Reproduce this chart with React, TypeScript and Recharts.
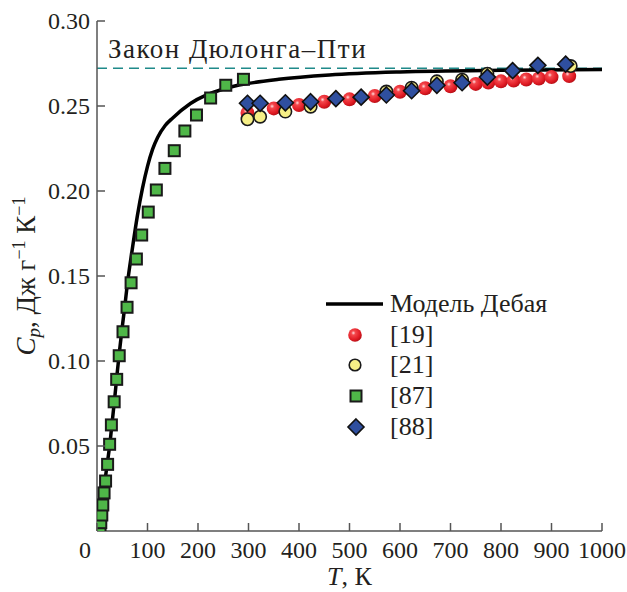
import React from 'react';
import { ComposedChart, Line, Scatter, XAxis, YAxis, ReferenceLine, Legend, Label } from 'recharts';

// Debye model curve
const debyeT = [0, 4, 8, 12, 16, 20, 25, 30, 35, 40, 45, 50, 55, 60, 70, 80, 90, 100, 110, 120, 135, 150, 185, 250, 300, 360, 460, 600, 800, 1000];
const debyeCp = [0, 0.004, 0.011, 0.02, 0.03, 0.039, 0.05, 0.064, 0.078, 0.093, 0.107, 0.12, 0.132, 0.145, 0.166, 0.1855, 0.2015, 0.2145, 0.2245, 0.2315, 0.2385, 0.243, 0.2515, 0.26, 0.2633, 0.2657, 0.2682, 0.27, 0.271, 0.2714];

// [19]
const ref19T = [298, 350, 400, 450, 500, 550, 600, 650, 700, 750, 775, 800, 825, 850, 875, 900, 935];
const ref19Cp = [0.2459, 0.2486, 0.2506, 0.2525, 0.2539, 0.2559, 0.2584, 0.2604, 0.2616, 0.263, 0.2638, 0.2645, 0.265, 0.2656, 0.2662, 0.267, 0.2676];

// [21]
const ref21T = [298, 323, 373, 423, 573, 623, 673, 723, 773, 938];
const ref21Cp = [0.2422, 0.2437, 0.2467, 0.2496, 0.2585, 0.2608, 0.2645, 0.2655, 0.269, 0.2735];

// [87]
const ref87T = [6, 7.5, 9.5, 11.5, 14, 17, 21, 25, 28.5, 34, 39, 44, 51.5, 59.5, 67.5, 78, 88.5, 101.5, 117.5, 134.5, 153, 174, 197, 225, 255, 290];
const ref87Cp = [0.0012, 0.0049, 0.0094, 0.0153, 0.0224, 0.0294, 0.0392, 0.051, 0.0624, 0.076, 0.0892, 0.1031, 0.1172, 0.1316, 0.146, 0.16, 0.1741, 0.1876, 0.2006, 0.2133, 0.2237, 0.2353, 0.2447, 0.2547, 0.2622, 0.2657];

// [88]
const ref88T = [298, 323, 373, 423, 473, 523, 573, 623, 673, 723, 773, 823, 873, 928];
const ref88Cp = [0.2516, 0.2516, 0.2519, 0.2525, 0.2543, 0.2552, 0.2565, 0.259, 0.2622, 0.2637, 0.267, 0.2708, 0.2739, 0.2746];

const xTicks = [0, 100, 200, 300, 400, 500, 600, 700, 800, 900, 1000];
const yTicks = [0.05, 0.1, 0.15, 0.2, 0.25, 0.3];
const dulongPetit = 0.2722;

const seriesNames = ['Модель Дебая', '[19]', '[21]', '[87]', '[88]'];
const dulongLabel = 'Закон Дюлонга–Пти';

const toPts = (ts: number[], cs: number[]) => ts.map((T, i) => ({ T, cp: cs[i] }));
const debyeData = toPts(debyeT, debyeCp);
const d19 = toPts(ref19T, ref19Cp);
const d21 = toPts(ref21T, ref21Cp);
const d87 = toPts(ref87T, ref87Cp);
const d88 = toPts(ref88T, ref88Cp);

const FONT = "'Liberation Serif', 'Times New Roman', serif";
const TXT = '#231f20';
const AX = '#555';
const FS = 24;
const FL = 26;

const SphereDefs = ({ id }: { id: string }) => (
  <defs>
    <radialGradient id={id} cx="0.38" cy="0.35" r="0.7">
      <stop offset="0%" stopColor="#ffe0e0" />
      <stop offset="22%" stopColor="#f4474c" />
      <stop offset="70%" stopColor="#e01b24" />
      <stop offset="100%" stopColor="#b00d14" />
    </radialGradient>
  </defs>
);

const Sphere = (p: any) => (
  <g>
    <SphereDefs id="sphereGrad" />
    <circle cx={p.cx} cy={p.cy} r={7} fill="url(#sphereGrad)" />
  </g>
);
const YellowDot = (p: any) => (
  <circle cx={p.cx} cy={p.cy} r={6.2} fill="#f6ef86" stroke="#1a1a1a" strokeWidth={1.6} />
);
const GreenSquare = (p: any) => (
  <rect x={p.cx - 5.5} y={p.cy - 5.5} width={11} height={11} fill="#4fb748" stroke="#1a1a1a" strokeWidth={2} />
);
const Diamond = (p: any) => (
  <path d={`M${p.cx},${p.cy - 8} L${p.cx + 8},${p.cy} L${p.cx},${p.cy + 8} L${p.cx - 8},${p.cy} Z`} fill="#2f4f9f" stroke="#111" strokeWidth={1.6} />
);

const XTick = (props: any) => {
  const { x, y, payload } = props;
  const v = payload.value;
  return (
    <g>
      <line x1={x} y1={y} x2={x} y2={y - 8} stroke={AX} strokeWidth={1.5} />
      <text x={x + (v === 0 ? -12 : 0)} y={y + 27} textAnchor="middle" fontSize={FS} fontFamily={FONT} fill={TXT}>{v}</text>
    </g>
  );
};

const YTick = (props: any) => {
  const { x, y, payload } = props;
  return (
    <g>
      <line x1={x} y1={y} x2={x + 8} y2={y} stroke={AX} strokeWidth={1.5} />
      <text x={x - 7} y={y} dy="0.35em" textAnchor="end" fontSize={FS} fontFamily={FONT} fill={TXT}>{Number(payload.value).toFixed(2)}</text>
    </g>
  );
};

const YLabel = (props: any) => {
  const vb = props.viewBox;
  const cx = vb.x + 35;
  const cy = vb.y + vb.height / 2;
  return (
    <text x={cx} y={cy} transform={`rotate(-90 ${cx} ${cy})`} textAnchor="middle" fontSize={27} fontFamily={FONT} fill={TXT}>
      <tspan fontStyle="italic">C</tspan>
      <tspan fontStyle="italic" fontSize={19} dy={5}>p</tspan>
      <tspan dy={-5}>, Дж г</tspan>
      <tspan fontSize={18} dy={-10}>−1</tspan>
      <tspan dy={10}> К</tspan>
      <tspan fontSize={18} dy={-10}>−1</tspan>
    </text>
  );
};

const XLabel = (props: any) => {
  const vb = props.viewBox;
  const cx = vb.x + vb.width / 2;
  return (
    <text x={cx} y={vb.y + 54} textAnchor="middle" fontSize={FL} fontFamily={FONT} fill={TXT}>
      <tspan fontStyle="italic">T</tspan>
      <tspan>, К</tspan>
    </text>
  );
};

const DulongLabel = (props: any) => {
  const vb = props.viewBox;
  return (
    <text x={vb.x + 11} y={vb.y - 10} fontSize={27} letterSpacing={1.5} fontFamily={FONT} fill={TXT}>{dulongLabel}</text>
  );
};

const icons = [
  <line key="l" x1={6} y1={15} x2={63} y2={15} stroke="#000" strokeWidth={3.5} />,
  <g key="r"><SphereDefs id="sphereGradLeg" /><circle cx={35} cy={15} r={6.8} fill="url(#sphereGradLeg)" /></g>,
  <circle key="y" cx={35} cy={15} r={5.8} fill="#f6ef86" stroke="#1a1a1a" strokeWidth={1.6} />,
  <rect key="g" x={30.5} y={9.5} width={11} height={11} fill="#4fb748" stroke="#1a1a1a" strokeWidth={2} />,
  <path key="d" d="M36,7 L44,15 L36,23 L28,15 Z" fill="#2f4f9f" stroke="#111" strokeWidth={1.6} />,
];

const LegendContent = () => (
  <div style={{ fontFamily: FONT, fontSize: FL, color: TXT }}>
    {seriesNames.map((name, i) => (
      <div key={name} style={{ display: 'flex', alignItems: 'center', height: 30.6 }}>
        <svg width={66} height={30} style={{ display: 'block' }}>{icons[i]}</svg>
        <span style={{ marginLeft: 4, lineHeight: '30px', whiteSpace: 'nowrap' }}>{name}</span>
      </div>
    ))}
  </div>
);

export default function App() {
  return (
    <div style={{ position: 'absolute', left: 0, top: 0, width: 627, height: 592, background: '#fff' }}>
      <ComposedChart width={627} height={592} margin={{ top: 21, right: 25, bottom: 0, left: 0 }}>
        <XAxis
          dataKey="T"
          type="number"
          domain={[0, 1000]}
          ticks={xTicks}
          interval={0}
          height={61}
          axisLine={{ stroke: AX, strokeWidth: 1.5 }}
          tickLine={false}
          tickSize={0}
          tickMargin={0}
          tick={<XTick />}
          allowDataOverflow
        >
          <Label content={<XLabel />} />
        </XAxis>
        <YAxis
          type="number"
          domain={[0, 0.3]}
          ticks={yTicks}
          interval={0}
          width={97}
          axisLine={{ stroke: AX, strokeWidth: 1.5 }}
          tickLine={false}
          tickSize={0}
          tickMargin={0}
          tick={<YTick />}
          allowDataOverflow
        >
          <Label content={<YLabel />} />
        </YAxis>
        <ReferenceLine y={dulongPetit} stroke="#1f8a8a" strokeWidth={1.7} strokeDasharray="10 6" label={<DulongLabel />} />
        <Line data={debyeData} dataKey="cp" type="monotone" stroke="#000" strokeWidth={3.5} dot={false} isAnimationActive={false} legendType="line" name={seriesNames[0]} />
        <Scatter data={d19} dataKey="cp" shape={<Sphere />} isAnimationActive={false} name={seriesNames[1]} />
        <Scatter data={d87} dataKey="cp" shape={<GreenSquare />} isAnimationActive={false} name={seriesNames[3]} />
        <Scatter data={d21} dataKey="cp" shape={<YellowDot />} isAnimationActive={false} name={seriesNames[2]} />
        <Scatter data={d88} dataKey="cp" shape={<Diamond />} isAnimationActive={false} name={seriesNames[4]} />
        <Legend
          layout="vertical"
          align="center"
          verticalAlign="middle"
          content={<LegendContent />}
          wrapperStyle={{ position: 'absolute', left: 320, top: 289, width: 280 }}
        />
      </ComposedChart>
    </div>
  );
}
